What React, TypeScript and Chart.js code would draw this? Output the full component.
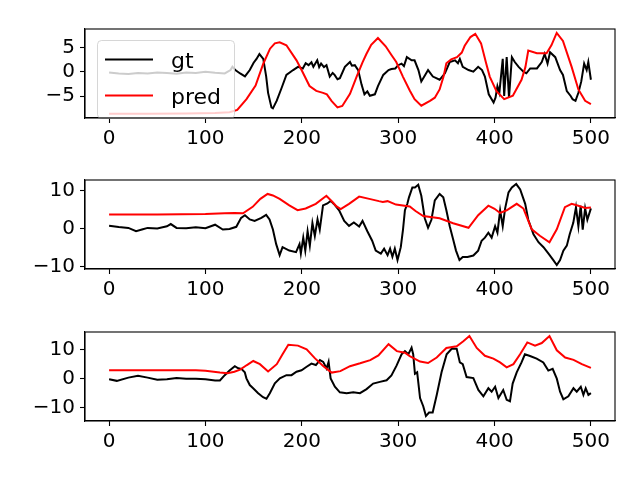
import React, { useEffect, useRef } from "react";
import { Chart, registerables } from "chart.js";

Chart.register(...registerables);
Chart.defaults.font.family = "'DejaVu Sans', sans-serif";
Chart.defaults.font.size = 20;
Chart.defaults.color = "#000000";

// ---- data ----
const xTicks = [0, 100, 200, 300, 400, 500];

const topGtX = [0, 10, 20, 30, 40, 50, 60, 70, 80, 90, 100, 110, 120, 126, 128, 131, 136, 141, 146, 150, 153, 156, 160, 163, 165, 168.5, 170, 174, 179, 184, 191, 196, 201, 204, 207, 210, 212, 216, 218, 220, 223, 225.6, 229, 232, 234, 237, 239.5, 244.7, 250, 252, 255, 258.5, 262, 265, 268, 270.6, 275.8, 279, 284.5, 290, 293, 297, 300, 303.5, 306, 309, 314, 317, 321, 324, 328, 331, 336, 343, 348.5, 353.5, 359, 362, 364, 367, 373, 378, 383, 387, 390, 394, 399, 401, 403, 405, 408.5, 410, 412.6, 415, 418, 421, 425, 430, 433, 437, 444, 449, 452, 455, 457.6, 463, 468, 471, 475, 479, 481, 484, 487, 490, 493, 495.6, 497.3, 500];
const topGtY = [-0.1, -0.3, -0.4, -0.2, -0.3, -0.1, -0.2, -0.35, -0.1, -0.2, 0.05, -0.15, -0.3, 0.4, 1.1, 0.4, -0.3, -0.9, 0.4, 1.9, 2.7, 3.7, 2.7, -0.9, -4.3, -7.3, -7.5, -5.9, -3.3, -0.6, 0.4, 1.06, 0.73, 1.8, 1.4, 2.0, 1.06, 2.4, 1.0, 1.73, 1.0, 1.4, -0.94, -0.2, -0.6, -1.5, -1.27, 1.06, 2.06, 1.3, 1.4, 0.4, -2.6, -4.6, -4.0, -4.9, -4.6, -2.9, -0.6, 0.4, 0.6, 0.73, 1.4, 1.73, 1.2, 3.06, 2.4, 2.4, 0.4, -1.94, -0.6, 0.4, -0.94, -1.6, -0.27, 2.06, 2.4, 1.8, 2.7, 1.06, 0.4, 0.06, 1.06, 0.4, -0.94, -4.6, -6.3, -5.3, -2.94, -4.27, 2.7, -4.94, 3.06, -5.3, 3.06, 2.06, 1.06, 0.06, -0.27, 0.73, 0.73, 2.06, 3.73, 1.73, 4.06, 3.06, 0.4, -0.6, -3.94, -4.94, -5.6, -5.94, -4.27, -1.94, 1.73, 0.4, 2.06, -1.6];
const topPredX = [0, 40, 80, 110, 125, 133, 142.6, 152, 160, 167, 172, 177, 184, 194.5, 200, 208, 215, 222, 226, 231, 237, 242, 250, 257, 263, 267, 272, 279, 287, 293, 298, 305, 312, 317, 324, 333, 338, 343, 347, 350, 355, 361, 366, 369, 375, 380, 386, 391, 395, 402, 410, 419, 428, 432, 435, 444, 454, 459, 464.5, 471, 480, 487, 494, 500];
const topPredY = [-8.6, -8.6, -8.55, -8.45, -8.3, -7.8, -5.6, -2.8, 1.7, 4.8, 5.9, 6.1, 5.5, 2.4, 0.3, -2.9, -3.9, -4.3, -4.6, -6.0, -7.3, -7.0, -4.5, -0.9, 2.0, 3.7, 5.6, 7.0, 5.3, 3.5, 2.06, -1.0, -3.8, -5.6, -6.94, -5.94, -5.3, -3.6, -1.0, 1.8, 2.6, 3.06, 4.0, 5.4, 7.2, 7.86, 5.9, 2.0, -0.94, -3.94, -5.6, -4.9, -1.6, 1.0, 4.4, 3.86, 3.86, 5.5, 8.06, 6.4, 1.06, -3.6, -5.94, -6.6];

const midGtX = [0, 10, 20, 28, 35, 40, 50, 60, 64, 70, 80, 90, 100, 110, 118, 125, 132, 137, 141, 146, 151, 158, 163, 166.5, 170, 173.4, 177, 180, 187, 194, 197.6, 199, 201.5, 203.6, 206, 208.3, 211, 213.5, 216.3, 218.6, 222, 226.6, 230, 233.5, 238.7, 244, 249, 254, 259.5, 263, 268, 273, 276.7, 282, 285.4, 289, 291.6, 294, 296.5, 299.3, 302.7, 305, 307, 309.5, 311.2, 314.7, 317.4, 320.8, 324, 327.6, 331, 334.5, 338, 343, 346.8, 350, 353.5, 357, 360, 363.6, 367, 372, 378, 383, 386.6, 390, 393.6, 397, 400.6, 403, 405.8, 408.5, 411, 414.5, 418, 422.5, 426.6, 431.8, 435, 440.4, 445.6, 450.8, 456, 461, 464.6, 468, 471.4, 475, 478, 481.7, 484.5, 487, 489.4, 491.5, 494, 496.3, 500];
const midGtY = [0.76, 0.42, 0.17, -0.68, -0.2, 0.17, 0.0, 0.6, 1.18, 0.17, 0.1, 0.34, 0.1, 1.0, -0.26, -0.1, 0.45, 2.8, 3.5, 2.4, 2.0, 2.8, 3.6, 2.4, -0.26, -4.1, -7.0, -4.9, -5.8, -6.2, -4.1, -6.6, -2.4, -5.8, -0.7, -4.5, 1.45, -1.96, 2.4, -0.3, 6.1, 6.6, 7.3, 6.4, 4.8, 2.0, 0.7, 1.6, 0.5, 2.0, -0.7, -3.2, -5.8, -6.6, -5.3, -7.0, -5.3, -7.4, -5.3, -8.3, -4.9, -0.26, 4.8, 6.5, 8.2, 10.8, 10.8, 11.5, 8.6, 2.7, 0.2, 2.3, 7.4, 9.1, 8.2, 4.8, 0.6, -2.8, -5.8, -8.3, -7.5, -7.5, -7.1, -5.8, -3.2, -2.4, -1.1, -2.4, 0.6, -1.1, 4.8, 0.6, 5.3, 9.5, 10.8, 11.7, 10.3, 6.5, 2.3, -1.5, -3.6, -4.9, -6.6, -8.3, -9.6, -8.3, -5.8, -4.5, -1.5, 1.5, 5.6, 0.6, 6.0, -0.3, 5.3, 2.3, 5.3];
const midPredX = [0, 50, 100, 120, 130, 139, 149, 157, 164.5, 170, 177, 187, 195.6, 204, 214.5, 225.5, 231.8, 236, 240.4, 249, 259.5, 270, 280, 284, 289, 297.7, 312, 318, 326, 343, 357, 373, 383, 393.6, 400, 405.7, 412.6, 423, 430, 438.6, 447, 457, 464.6, 473, 480, 487, 494, 500];
const midPredY = [3.7, 3.7, 3.8, 4.0, 4.1, 4.0, 5.7, 7.8, 9.09, 8.7, 7.8, 6.1, 4.84, 5.26, 6.5, 8.6, 6.96, 5.8, 5.1, 6.5, 8.4, 7.8, 7.2, 7.0, 7.2, 6.3, 5.8, 4.6, 3.3, 2.7, 1.4, 0.2, 3.5, 6.0, 5.2, 4.1, 4.8, 6.5, 5.26, -0.2, -1.9, -3.6, -0.2, 5.6, 6.5, 6.0, 5.4, 5.5];

const botGtX = [0, 8, 20, 30, 40, 50, 60, 70, 80, 90, 100, 110, 115, 120, 125, 130.5, 134, 137.3, 140.8, 142.5, 146, 149.5, 154.7, 159.8, 163.3, 166.8, 172, 177.2, 184, 189.3, 194.5, 199.7, 205, 210, 214.6, 218.8, 222.2, 225.7, 227.8, 229.9, 234.3, 239.5, 246.5, 253.4, 260.3, 267.2, 274, 281, 288, 293, 298.3, 303.5, 307, 310.5, 313.9, 315.6, 317.4, 319.7, 322.7, 326, 328.8, 332, 335.8, 340, 345, 350.3, 355.5, 360.7, 364, 367, 371, 378, 383.2, 388.4, 393.6, 397, 400.6, 404, 409, 412.6, 416, 418.8, 423, 428, 431.5, 436.8, 443.7, 450.6, 455.8, 460.3, 464.6, 468, 471.4, 476.6, 481.9, 485.3, 489.5, 492.2, 494.6, 497.4, 500];
const botGtY = [-0.1, -0.65, 0.46, 1.1, 0.46, -0.3, -0.1, 0.3, 0.1, 0.1, -0.1, -0.54, -0.5, 1.3, 2.9, 4.4, 3.7, 3.5, 2.3, 0.2, -2.1, -3.2, -4.9, -6.3, -6.8, -4.9, -1.5, 0.2, 1.3, 1.3, 2.5, 3.0, 4.2, 5.3, 4.8, 6.5, 5.9, 3.6, 5.9, 0.2, -2.7, -4.6, -4.9, -4.6, -4.9, -3.5, -1.6, -1.0, -0.47, 1.2, 4.6, 8.5, 9.6, 8.5, 10.8, 8.5, 1.8, 2.3, -6.6, -9.4, -12.8, -11.6, -11.6, -5.5, 2.3, 8.5, 10.4, 10.4, 5.7, 5.1, 0.66, 0.3, -3.8, -6.0, -3.2, -4.4, -2.7, -6.6, -3.8, -7.2, -7.7, -1.6, 2.3, 5.7, 8.5, 7.9, 7.0, 5.7, 2.9, 3.5, 0.1, -4.4, -7.0, -6.0, -3.2, -4.4, -2.7, -5.5, -3.2, -5.5, -4.9];
const botPredX = [0, 50, 90, 100, 115, 123, 130, 136, 143, 149.6, 156.5, 165, 174, 180, 186, 196, 205, 213.7, 222.4, 231, 240, 250, 260.5, 271, 279.5, 290, 298.6, 307, 312, 322.7, 331, 340, 350, 360.7, 367.6, 373.9, 381.5, 390, 398.8, 405.7, 412.6, 419.6, 426.5, 434, 442, 449, 457, 464.6, 473.3, 482, 490.6, 500];
const botPredY = [3.0, 3.0, 3.0, 2.8, 2.2, 2.0, 2.5, 3.2, 4.8, 6.2, 5.1, 2.6, 5.1, 8.5, 11.8, 11.5, 10.2, 7.1, 4.4, 2.2, 2.7, 4.4, 5.4, 6.5, 8.1, 12.0, 9.6, 9.05, 7.9, 6.0, 5.5, 7.4, 10.7, 11.3, 13.0, 14.8, 10.7, 8.0, 7.0, 5.7, 4.0, 5.1, 8.5, 12.6, 11.5, 12.4, 14.8, 9.9, 7.4, 6.6, 5.1, 3.8];

// ---- layout ----
const W = 640;
const PLOT_LEFT = 85;
const PLOT_RIGHT = 615;
const PLOT_H = 92;
const PAD_TOP = 14;
const XAXIS_H = 40;

const framePlugin = {
  id: "frame",
  afterDraw(chart: any) {
    const { ctx, chartArea: a } = chart;
    ctx.save();
    ctx.strokeStyle = "#000000";
    ctx.lineWidth = 1.1;
    ctx.strokeRect(a.left, a.top, a.right - a.left, a.bottom - a.top);
    ctx.restore();
  },
};

// matplotlib-like legend box in the upper left corner
const boxLegendPlugin = {
  id: "boxLegend",
  afterDatasetsDraw(chart: any) {
    const { ctx, chartArea: a } = chart;
    const x = a.left + 12.5;
    const y = a.top + 11.5;
    const w = 137;
    const h = 78;
    ctx.save();
    ctx.beginPath();
    ctx.roundRect(x, y, w, h, 4);
    ctx.fillStyle = "rgba(255,255,255,0.8)";
    ctx.fill();
    ctx.strokeStyle = "rgba(204,204,204,0.8)";
    ctx.lineWidth = 1;
    ctx.stroke();
    ctx.font = "22px 'DejaVu Sans', sans-serif";
    ctx.textBaseline = "alphabetic";
    chart.data.datasets.forEach((ds: any, i: number) => {
      const ly = y + 19 + i * 36;
      ctx.strokeStyle = ds.borderColor;
      ctx.lineWidth = 2;
      ctx.beginPath();
      ctx.moveTo(x + 7.5, ly);
      ctx.lineTo(x + 55.5, ly);
      ctx.stroke();
      ctx.fillStyle = "#000000";
      ctx.fillText(ds.label, x + 73.5, ly + 8.5);
    });
    ctx.restore();
  },
};

type PanelProps = {
  gtX: number[];
  gtY: number[];
  predX: number[];
  predY: number[];
  yMin: number;
  yMax: number;
  yTicks: number[];
  top: number;
  legend: boolean;
};

const Panel: React.FC<PanelProps> = (p) => {
  const canvasRef = useRef<HTMLCanvasElement | null>(null);

  useEffect(() => {
    if (!canvasRef.current) return;
    const pts = (xs: number[], ys: number[]) => xs.map((x, i) => ({ x, y: ys[i] }));
    const tickStyle = {
      grid: { display: true, drawOnChartArea: false, drawTicks: true, tickLength: 5, tickColor: "#000000", tickWidth: 1.1 },
      border: { display: true, color: "#000000", width: 1.1 },
    };
    const chart = new Chart(canvasRef.current, {
      type: "line",
      data: {
        datasets: [
          { label: "gt", data: pts(p.gtX, p.gtY), borderColor: "#000000", backgroundColor: "#000000", borderWidth: 2, pointRadius: 0, tension: 0, order: 1 },
          { label: "pred", data: pts(p.predX, p.predY), borderColor: "#ff0000", backgroundColor: "#ff0000", borderWidth: 2, pointRadius: 0, tension: 0, order: 0 },
        ],
      },
      options: {
        responsive: false,
        animation: false,
        events: [],
        layout: { padding: { left: 0, right: W - PLOT_RIGHT, top: PAD_TOP, bottom: 0 } },
        plugins: { legend: { display: false }, tooltip: { enabled: false } },
        scales: {
          x: {
            type: "linear",
            min: -25,
            max: 525,
            afterBuildTicks: (s: any) => { s.ticks = xTicks.map((v) => ({ value: v })); },
            afterFit: (s: any) => { s.height = XAXIS_H; },
            ticks: { padding: 4, maxRotation: 0, color: "#000000", callback: (v: any) => String(v) },
            ...tickStyle,
          },
          y: {
            type: "linear",
            min: p.yMin,
            max: p.yMax,
            afterBuildTicks: (s: any) => { s.ticks = p.yTicks.map((v) => ({ value: v })); },
            afterFit: (s: any) => { s.width = PLOT_LEFT; },
            ticks: { padding: 5, color: "#000000", callback: (v: any) => String(v).replace("-", "\u2212") },
            ...tickStyle,
          },
        },
      } as any,
      plugins: p.legend ? [framePlugin, boxLegendPlugin] : [framePlugin],
    });
    return () => chart.destroy();
  }, [p]);

  const h = PAD_TOP + PLOT_H + XAXIS_H;
  return (
    <canvas
      ref={canvasRef}
      width={W}
      height={h}
      style={{ position: "absolute", left: 0, top: p.top - PAD_TOP, width: W, height: h }}
    />
  );
};

const App: React.FC = () => (
  <div style={{ position: "absolute", left: 0, top: 0, width: 640, height: 480, background: "#ffffff", overflow: "hidden" }}>
    <Panel gtX={topGtX} gtY={topGtY} predX={topPredX} predY={topPredY} yMin={-9.48} yMax={8.86} yTicks={[-5, 0, 5]} top={26} legend={true} />
    <Panel gtX={midGtX} gtY={midGtY} predX={midPredX} predY={midPredY} yMin={-10.64} yMax={12.76} yTicks={[-10, 0, 10]} top={177} legend={false} />
    <Panel gtX={botGtX} gtY={botGtY} predX={botPredX} predY={botPredY} yMin={-14.5} yMax={16.2} yTicks={[-10, 0, 10]} top={329} legend={false} />
  </div>
);

export default App;
